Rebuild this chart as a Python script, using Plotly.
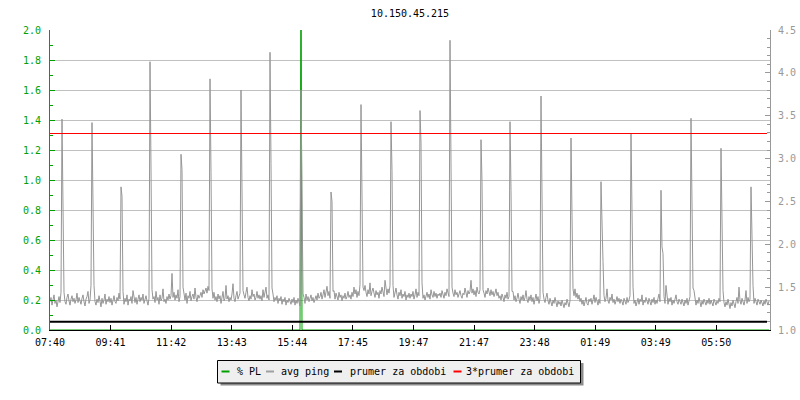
import plotly.graph_objects as go

# popisky a hodnoty
TITLE = "10.150.45.215"
TICK_LABELS = ["07:40", "09:41", "11:42", "13:43", "15:44", "17:45",
               "19:47", "21:47", "23:48", "01:49", "03:49", "05:50"]
TICK_STEP_MIN = 121.15   # rozestup popisku casu v minutach
STEP_MIN = 2             # krok vzorku avg ping

LEGEND_NAMES = ["% PL", "avg ping", "prumer za obdobi", "3*prumer za obdobi"]

# avg ping [ms], jeden radek = jedna hodina (30 vzorku po 2 min)
AVG_PING = [
    1.33, 1.38, 1.29, 1.36, 1.41, 1.31, 1.35, 1.27, 1.34, 1.39,
    1.32, 1.44, 1.37, 1.35, 1.47, 1.33, 1.30, 1.38, 1.42, 1.34,
    1.29, 1.36, 1.40, 1.33, 1.37, 1.31, 1.35, 1.43, 1.32, 1.38,
    1.34, 1.30, 1.37, 1.41, 1.33, 1.28, 1.36, 1.39, 1.45, 1.31,
    1.35, 1.52, 1.40, 1.56, 1.38, 1.33, 1.29, 1.36, 1.32, 1.40,
    1.34, 1.27, 1.37, 1.31, 1.35, 1.42, 1.30, 1.36, 1.33, 1.39,
    1.32, 1.37, 1.29, 1.35, 1.40, 1.33, 1.31, 1.38, 1.34, 1.43,
    1.36, 1.39, 1.48, 1.35, 1.30, 1.37, 1.33, 1.41, 1.29, 1.36,
    1.34, 1.39, 1.31, 1.46, 1.35, 1.32, 1.38, 1.30, 1.36, 1.41,
    1.33, 1.38, 1.35, 1.42, 1.31, 1.36, 1.40, 1.34, 1.29, 1.37,
    1.35, 1.50, 1.43, 1.36, 1.39, 1.32, 1.45, 1.35, 1.38, 1.30,
    1.41, 1.34, 1.37, 1.48, 1.33, 1.36, 1.31, 1.39, 1.35, 1.42,
    1.36, 1.40, 1.66, 1.38, 1.44, 1.35, 1.41, 1.37, 1.47, 1.33,
    1.39, 1.36, 1.42, 1.54, 1.38, 1.35, 1.43, 1.31, 1.40, 1.37,
    1.45, 1.34, 1.39, 1.42, 1.36, 1.49, 1.38, 1.33, 1.41, 1.37,
    1.40, 1.44, 1.38, 1.47, 1.42, 1.45, 1.49, 1.43, 1.51, 1.46,
    1.48, 1.57, 1.41, 1.37, 1.44, 1.35, 1.39, 1.33, 1.42, 1.36,
    1.40, 1.31, 1.38, 1.45, 1.34, 1.37, 1.52, 1.36, 1.40, 1.33,
    1.38, 1.35, 1.42, 1.54, 1.37, 1.33, 1.40, 1.45, 1.36, 1.39,
    1.43, 1.48, 1.39, 1.35, 1.41, 1.37, 1.44, 1.50, 1.38, 1.34,
    1.40, 1.36, 1.47, 1.39, 1.42, 1.35, 1.38, 1.45, 1.37, 1.41,
    1.36, 1.40, 1.34, 1.47, 1.38, 1.43, 1.50, 1.37, 1.41, 1.35,
    1.44, 1.39, 1.36, 1.42, 1.33, 1.38, 1.35, 1.40, 1.31, 1.37,
    1.34, 1.39, 1.30, 1.36, 1.33, 1.38, 1.29, 1.35, 1.32, 1.37,
    1.34, 1.30, 1.36, 1.32, 1.38, 1.29, 1.35, 1.31, 1.37, 1.33,
    1.28, 1.36, 1.40, 1.34, 1.38, 1.31, 1.42, 1.35, 1.39, 1.33,
    1.37, 1.41, 1.34, 1.38, 1.32, 1.36, 1.40, 1.35, 1.43, 1.37,
    1.39, 1.44, 1.36, 1.41, 1.47, 1.38, 1.43, 1.51, 1.40, 1.45,
    1.37, 1.48, 1.42, 1.39, 1.46, 1.36, 1.43, 1.40, 1.35, 1.44,
    1.38, 1.41, 1.34, 1.40, 1.37, 1.43, 1.36, 1.39, 1.45, 1.38,
    1.41, 1.36, 1.44, 1.39, 1.50, 1.42, 1.47, 1.38, 1.45, 1.40,
    1.53, 1.43, 1.48, 1.41, 1.46, 1.52, 1.44, 1.39, 1.47, 1.42,
    1.55, 1.40, 1.45, 1.49, 1.43, 1.38, 1.46, 1.41, 1.44, 1.37,
    1.46, 1.42, 1.50, 1.44, 1.39, 1.58, 1.45, 1.41, 1.48, 1.43,
    1.52, 1.47, 1.40, 1.45, 1.38, 1.43, 1.49, 1.41, 1.36, 1.44,
    1.40, 1.47, 1.37, 1.42, 1.39, 1.45, 1.35, 1.41, 1.38, 1.43,
    1.37, 1.42, 1.39, 1.45, 1.36, 1.41, 1.48, 1.38, 1.44, 1.40,
    1.46, 1.39, 1.43, 1.37, 1.41, 1.35, 1.40, 1.44, 1.38, 1.42,
    1.36, 1.47, 1.41, 1.38, 1.45, 1.39, 1.43, 1.37, 1.42, 1.40,
    1.43, 1.38, 1.46, 1.41, 1.37, 1.44, 1.40, 1.48, 1.42, 1.39,
    1.45, 1.40, 1.36, 1.43, 1.39, 1.47, 1.41, 1.44, 1.38, 1.42,
    1.46, 1.40, 1.37, 1.43, 1.41, 1.49, 1.44, 1.38, 1.46, 1.42,
    1.45, 1.58, 1.43, 1.48, 1.41, 1.46, 1.39, 1.50, 1.44, 1.42,
    1.47, 1.40, 1.45, 1.51, 1.43, 1.38, 1.46, 1.42, 1.49, 1.44,
    1.40, 1.47, 1.41, 1.45, 1.39, 1.43, 1.48, 1.40, 1.44, 1.37,
    1.40, 1.35, 1.42, 1.38, 1.33, 1.41, 1.37, 1.44, 1.36, 1.39,
    1.34, 1.42, 1.38, 1.45, 1.35, 1.40, 1.33, 1.37, 1.43, 1.36,
    1.31, 1.39, 1.35, 1.41, 1.34, 1.38, 1.46, 1.36, 1.32, 1.39,
    1.35, 1.41, 1.33, 1.38, 1.30, 1.36, 1.42, 1.34, 1.39, 1.31,
    1.37, 1.33, 1.40, 1.29, 1.36, 1.32, 1.38, 1.43, 1.34, 1.30,
    1.37, 1.33, 1.28, 1.35, 1.31, 1.38, 1.32, 1.27, 1.34, 1.30,
    1.33, 1.28, 1.35, 1.30, 1.26, 1.32, 1.29, 1.36, 1.31, 1.27,
    1.34, 1.30, 1.44, 1.46, 1.40, 1.48, 1.38, 1.43, 1.36, 1.41,
    1.33, 1.37, 1.30, 1.35, 1.28, 1.33, 1.38, 1.31, 1.29, 1.36,
    1.33, 1.37, 1.30, 1.35, 1.41, 1.32, 1.38, 1.34, 1.29, 1.36,
    1.31, 1.39, 1.44, 1.35, 1.40, 1.33, 1.37, 1.48, 1.34, 1.31,
    1.38, 1.35, 1.42, 1.32, 1.36, 1.30, 1.34, 1.39, 1.33, 1.37,
    1.31, 1.36, 1.33, 1.29, 1.37, 1.34, 1.30, 1.38, 1.32, 1.35,
    1.40, 1.36, 1.33, 1.39, 1.31, 1.35, 1.28, 1.34, 1.37, 1.30,
    1.36, 1.33, 1.41, 1.29, 1.35, 1.32, 1.38, 1.34, 1.30, 1.37,
    1.34, 1.29, 1.36, 1.32, 1.38, 1.30, 1.35, 1.31, 1.37, 1.42,
    1.33, 1.36, 1.40, 1.34, 1.39, 1.31, 1.52, 1.35, 1.30, 1.37,
    1.33, 1.38, 1.29, 1.35, 1.31, 1.36, 1.41, 1.33, 1.30, 1.36,
    1.33, 1.30, 1.36, 1.32, 1.28, 1.35, 1.31, 1.37, 1.29, 1.34,
    1.39, 1.32, 1.36, 1.30, 1.46, 1.33, 1.29, 1.35, 1.31, 1.38,
    1.32, 1.27, 1.34, 1.30, 1.36, 1.33, 1.29, 1.35, 1.31, 1.37,
    1.30, 1.35, 1.31, 1.28, 1.36, 1.32, 1.29, 1.34, 1.31, 1.37,
    1.33, 1.40, 1.30, 1.35, 1.32, 1.27, 1.33, 1.29, 1.36, 1.31,
    1.25, 1.32, 1.28, 1.35, 1.30, 1.26, 1.33, 1.38, 1.31, 1.50,
    1.34, 1.30, 1.37, 1.32, 1.29, 1.35, 1.46, 1.31, 1.38, 1.33,
    1.36, 1.41, 1.47, 1.35, 1.31, 1.37, 1.33, 1.29, 1.36, 1.32,
    1.30, 1.35, 1.31, 1.28, 1.34, 1.30, 1.36, 1.32, 1.29, 1.34,
]

# hodinove spicky: index vzorku, vrchol, nasledujici vzorek, dozvuk
SPIKE_IDX = [12, 42, 71, 100, 131, 160, 191, 220, 251, 281, 311, 341,
             370, 400, 431, 460, 491, 521, 551, 581, 611, 641, 671, 701]
SPIKE_PEAK = [3.46, 3.42, 2.67, 4.13, 3.05, 3.93, 3.80, 4.24, 3.80, 2.61, 3.63, 3.43,
              3.56, 4.38, 3.22, 3.43, 3.73, 3.24, 2.73, 3.29, 2.63, 3.47, 3.12, 2.67]
SPIKE_NEXT = [2.41, 2.56, 2.56, 2.89, 2.87, 2.84, 2.87, 2.94, 2.66, 2.50, 2.48, 2.86,
              3.18, 3.01, 2.73, 2.63, 2.53, 2.34, 2.06, 2.34, 1.97, 2.40, 2.37, 1.99]
SPIKE_TAIL = [1.44, 1.52, 1.45, 1.47, 1.50, 1.48, 1.46, 1.49, 1.42, 1.45, 1.50, 1.52,
              1.55, 1.50, 1.47, 1.45, 1.44, 1.48, 1.80, 1.50, 1.89, 1.49, 1.46, 1.52]

# ztrata paketu [%] (jediny nenulovy vzorek, nad horni hranou grafu)
PL_IDX = [251]
PL_VAL = [2.6]

PRUMER = 1.0975

GREEN = "#00a000"
GREY = "#999999"
FONT = "DejaVu Sans Mono"
FSIZE = 10

ping = list(AVG_PING)
for i, p, n, t in zip(SPIKE_IDX, SPIKE_PEAK, SPIKE_NEXT, SPIKE_TAIL):
    ping[i] = p
    ping[i + 1] = n
    ping[i + 2] = t
x = [i * STEP_MIN for i in range(len(ping))]

pl = [0.0] * len(ping)
for i, v in zip(PL_IDX, PL_VAL):
    pl[i] = v

fig = go.Figure()
fig.add_trace(go.Scatter(x=x, y=pl, mode="lines", line=dict(color=GREEN, width=1),
                         name=LEGEND_NAMES[0], yaxis="y"))
fig.add_trace(go.Scatter(x=x, y=ping, mode="lines", line=dict(color="#969696", width=1),
                         name=LEGEND_NAMES[1], yaxis="y2"))
fig.add_trace(go.Scatter(x=[0, 1434], y=[PRUMER, PRUMER], mode="lines",
                         line=dict(color="black", width=2), name=LEGEND_NAMES[2], yaxis="y2"))
fig.add_trace(go.Scatter(x=[0, 1434], y=[3 * PRUMER, 3 * PRUMER], mode="lines",
                         line=dict(color="red", width=1), name=LEGEND_NAMES[3], yaxis="y2"))

# plocha grafu: x 50..770, y 30..330 px
L, R, T, B = 50, 770, 30, 330


def px(xp):
    return (xp - L) / (R - L)


def py(yp):
    return (B - yp) / (B - T)


# vlastni legenda jako v rrdtool
shapes = [
    dict(type="rect", xref="paper", yref="paper", x0=px(220.5), x1=px(583.5),
         y0=py(385.5), y1=py(363), fillcolor="#8c8c8c", line=dict(width=0), layer="below"),
    dict(type="rect", xref="paper", yref="paper", x0=px(217.5), x1=px(580.5),
         y0=py(383), y1=py(360.5), fillcolor="#efefef", line=dict(color="black", width=1)),
]
legend_colors = [GREEN, "#a0a0a0", "black", "red"]
legend_line_x = [221.5, 266, 334, 453.5]
legend_text_x = [235.5, 279, 347.5, 464]
annotations = []
for c, lx, tx, name in zip(legend_colors, legend_line_x, legend_text_x, LEGEND_NAMES):
    shapes.append(dict(type="line", xref="paper", yref="paper", x0=px(lx), x1=px(lx + 8),
                       y0=py(371.5), y1=py(371.5), line=dict(color=c, width=2)))
    annotations.append(dict(text=name, xref="paper", yref="paper", x=px(tx), y=py(371.5),
                            xanchor="left", yanchor="middle", showarrow=False,
                            font=dict(family=FONT, size=FSIZE, color="black")))

fig.update_layout(
    width=800, height=400,
    margin=dict(l=L, r=800 - R, t=T, b=400 - B, autoexpand=False),
    paper_bgcolor="white", plot_bgcolor="white",
    showlegend=False,
    title=dict(text=TITLE, x=0.5, xref="paper", y=1 - 13.5 / 400, yref="container",
               yanchor="middle", automargin=False,
               font=dict(family=FONT, size=FSIZE, color="black")),
    font=dict(family=FONT, size=FSIZE),
    xaxis=dict(range=[0, 1440], tickvals=[k * TICK_STEP_MIN for k in range(len(TICK_LABELS))],
               ticktext=TICK_LABELS, ticks="inside", ticklen=5, tickcolor="black",
               showline=True, linecolor="black", linewidth=1, showgrid=False, zeroline=False,
               tickfont=dict(color="black"), ticklabelstandoff=3, automargin=False),
    yaxis=dict(range=[0, 2], dtick=0.2, tickformat=".1f", ticks="inside", ticklen=5,
               tickcolor=GREEN, showline=True, linecolor=GREEN, linewidth=1,
               showgrid=True, gridcolor="#c0c0c0", gridwidth=1, zeroline=False,
               tickfont=dict(color=GREEN), ticklabelstandoff=6, automargin=False,
               minor=dict(dtick=0.1, ticks="inside", ticklen=3, tickcolor=GREEN, showgrid=False)),
    yaxis2=dict(range=[1, 4.5], dtick=0.5, tickformat=".1f", side="right", overlaying="y",
                ticks="inside", ticklen=5, tickcolor=GREY, showline=True, linecolor=GREY,
                linewidth=1, showgrid=False, zeroline=False,
                tickfont=dict(color=GREY), ticklabelstandoff=5, automargin=False,
                minor=dict(dtick=0.1, ticks="inside", ticklen=3, tickcolor=GREY, showgrid=False)),
    shapes=shapes,
    annotations=annotations,
)

# stranka ma vychozi okraj 8 px, graf ma sedet v rohu okna
fig.write_html("out.html", config={"displayModeBar": False},
               post_script="document.body.style.margin = '0';")
